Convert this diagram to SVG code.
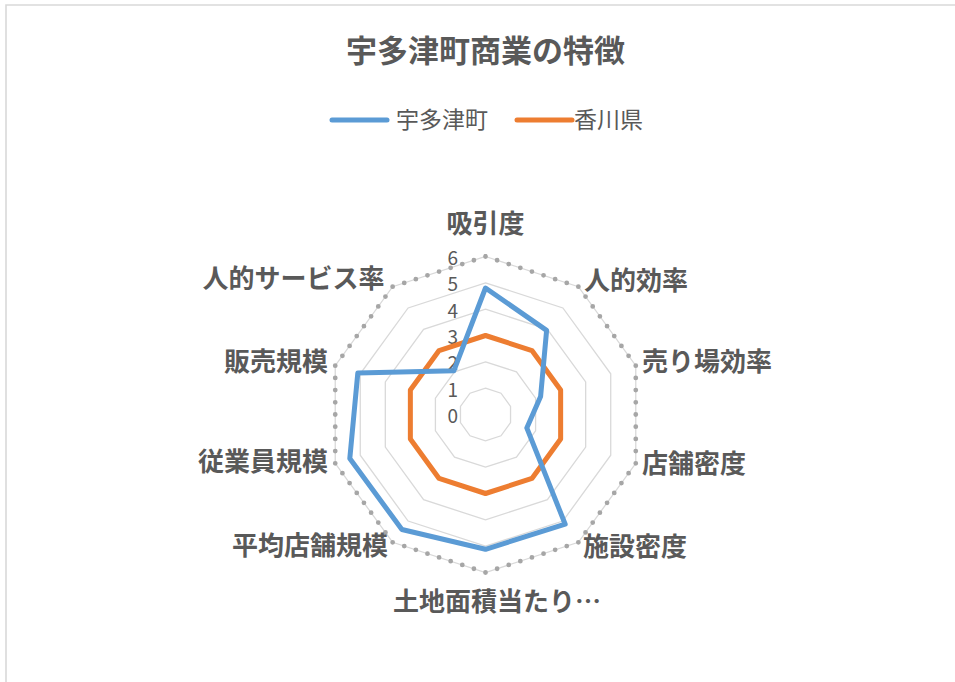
<svg xmlns="http://www.w3.org/2000/svg" width="955" height="682" viewBox="0 0 955 682">
<style>
text{font-family:"Noto Sans CJK JP","Noto Sans",sans-serif;fill:#595959}
.title{font-size:31px;font-weight:bold}
.leg{font-size:23px}
.cat{font-size:26px;font-weight:bold}
.tick{font-size:19px;text-anchor:end}
.grid{fill:none;stroke:#d9d9d9;stroke-width:1.3}
.dots{fill:none;stroke:#a6a6a6;stroke-width:4.8;stroke-linecap:round;stroke-dasharray:0 12.206}
.s1{fill:none;stroke:#5b9bd5;stroke-width:5;stroke-linejoin:round}
.s2{fill:none;stroke:#ed7d31;stroke-width:5;stroke-linejoin:round}
</style>
<rect x="0" y="0" width="955" height="682" fill="#ffffff"/>
<path d="M6 682 V5 H955" fill="none" stroke="#d9d9d9" stroke-width="1.6"/>
<g id="title"><text class="title" x="485.5" y="62" text-anchor="middle">宇多津町商業の特徴</text></g>
<g id="legend">
<line x1="332" y1="120" x2="387" y2="120" stroke="#5b9bd5" stroke-width="5" stroke-linecap="round"/>
<text class="leg" x="396" y="127.5">宇多津町</text>
<line x1="517" y1="120" x2="572" y2="120" stroke="#ed7d31" stroke-width="5" stroke-linecap="round"/>
<text class="leg" x="574" y="127.5">香川県</text>
</g>
<g id="grid">
<polygon class="grid" points="485.5,388.17 500.98,393.2 510.54,406.36 510.54,422.64 500.98,435.8 485.5,440.83 470.02,435.8 460.46,422.64 460.46,406.36 470.02,393.2"/>
<polygon class="grid" points="485.5,361.83 516.46,371.89 535.59,398.23 535.59,430.77 516.46,457.11 485.5,467.17 454.54,457.11 435.41,430.77 435.41,398.23 454.54,371.89"/>
<polygon class="grid" points="485.5,335.5 531.94,350.59 560.64,390.09 560.64,438.91 531.94,478.41 485.5,493.5 439.06,478.41 410.36,438.91 410.36,390.09 439.06,350.59"/>
<polygon class="grid" points="485.5,309.17 547.41,329.29 585.68,381.95 585.68,447.05 547.41,499.71 485.5,519.83 423.59,499.71 385.32,447.05 385.32,381.95 423.59,329.29"/>
<polygon class="grid" points="485.5,282.83 562.89,307.98 610.73,373.81 610.73,455.19 562.89,521.02 485.5,546.17 408.11,521.02 360.27,455.19 360.27,373.81 408.11,307.98"/>
<polygon class="grid" points="485.5,256.5 578.37,286.68 635.77,365.68 635.77,463.32 578.37,542.32 485.5,572.5 392.63,542.32 335.23,463.32 335.23,365.68 392.63,286.68"/>
<path class="dots" d="M485.5,256.5 L578.37,286.68 L635.77,365.68 L635.77,463.32 L578.37,542.32 L485.5,572.5 L392.63,542.32 L335.23,463.32 L335.23,365.68 L392.63,286.68 Z"/>
</g>
<g id="ticks">
<text class="tick" x="458" y="423">0</text>
<text class="tick" x="458" y="396.7">1</text>
<text class="tick" x="458" y="370.3">2</text>
<text class="tick" x="458" y="344">3</text>
<text class="tick" x="458" y="317.7">4</text>
<text class="tick" x="458" y="291.3">5</text>
<text class="tick" x="458" y="265">6</text>
</g>
<g id="connectors">
<polygon id="series-kagawa" class="s2" points="485.5,335.5 531.94,350.59 560.64,390.09 560.64,438.91 531.94,478.41 485.5,493.5 439.06,478.41 410.36,438.91 410.36,390.09 439.06,350.59"/>
<polygon id="series-utazu" class="s1" points="485.5,288 546.6,330.4 540.6,396.6 526.8,427.9 565.2,524.2 485.5,549.3 401.9,529.5 349.8,458.6 357.8,373 453.8,370.8"/>
</g>
<g id="cat-0"><text class="cat" x="485.5" y="232.5" text-anchor="middle">吸引度</text></g>
<g id="cat-1"><text class="cat" x="584" y="289.5">人的効率</text></g>
<g id="cat-2"><text class="cat" x="642" y="370.5">売り場効率</text></g>
<g id="cat-3"><text class="cat" x="642" y="472.5">店舗密度</text></g>
<g id="cat-4"><text class="cat" x="583" y="555.5">施設密度</text></g>
<g id="cat-5"><text class="cat" x="393" y="610.5">土地面積当たり…</text></g>
<g id="cat-6"><text class="cat" x="388" y="554.5" text-anchor="end">平均店舗規模</text></g>
<g id="cat-7"><text class="cat" x="328" y="470.5" text-anchor="end">従業員規模</text></g>
<g id="cat-8"><text class="cat" x="328" y="370.5" text-anchor="end">販売規模</text></g>
<g id="cat-9"><text class="cat" x="384.5" y="287.5" text-anchor="end">人的サービス率</text></g>
</svg>
